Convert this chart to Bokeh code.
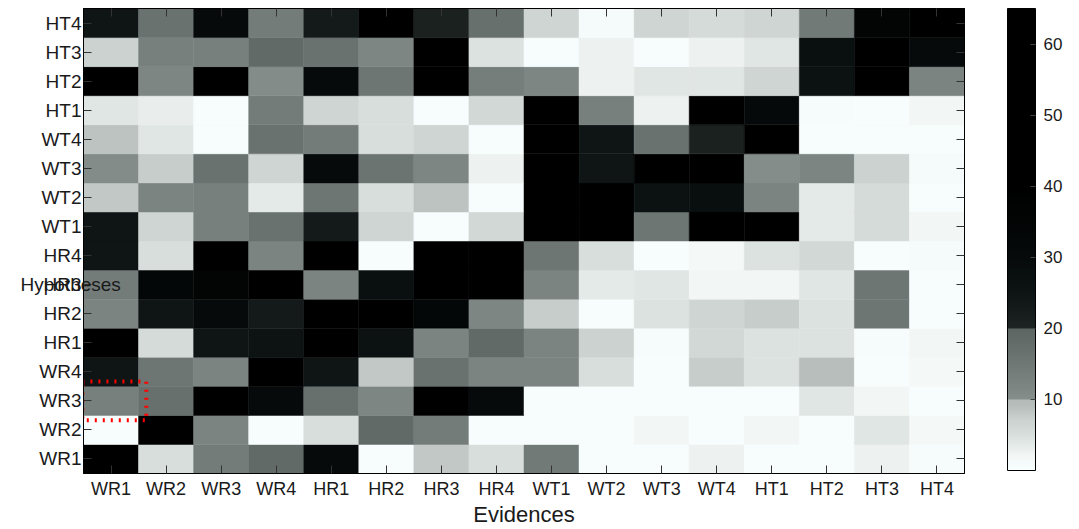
import numpy as np
from bokeh.plotting import figure
from bokeh.models import (LinearColorMapper, ColorBar, FixedTicker, CategoricalAxis,
                          ColumnDataSource)
from bokeh.transform import transform, dodge
from bokeh.embed import file_html
from bokeh.resources import INLINE

# ---------------- data ----------------
evidences = ["WR1", "WR2", "WR3", "WR4", "HR1", "HR2", "HR3", "HR4",
             "WT1", "WT2", "WT3", "WT4", "HT1", "HT2", "HT3", "HT4"]
hypotheses = ["WR1", "WR2", "WR3", "WR4", "HR1", "HR2", "HR3", "HR4",
              "WT1", "WT2", "WT3", "WT4", "HT1", "HT2", "HT3", "HT4"]

# one row per hypothesis, values along evidences
row_ht4 = [25, 16.5, 30, 14, 23, 55, 21, 17, 6.5, 1, 6.5, 5.5, 6.5, 14.5, 35, 52]
row_ht3 = [7, 13, 13, 18.5, 16.5, 11.5, 58, 4.5, 0.5, 2.5, 0.5, 2.5, 4, 27, 60, 30]
row_ht2 = [60, 11.5, 57, 10.5, 30, 15.5, 40, 13.5, 11.5, 2.5, 4, 4, 6.5, 26, 55, 12]
row_ht1 = [4, 3, 0.5, 14, 6.5, 5, 0.5, 6, 42, 13, 2.5, 50, 31, 0.8, 0.6, 2]
row_wt4 = [8.5, 4, 0.5, 16.5, 14, 5, 6.5, 0.5, 40, 25, 16.5, 21, 52, 0.6, 0.6, 0.6]
row_wt3 = [10.5, 7.5, 16.5, 6.5, 30, 16, 11.5, 2.5, 55, 25, 45, 50, 10.3, 11.8, 7, 1]
row_wt2 = [8, 12, 13, 3.5, 15.5, 5, 8.5, 0.5, 40, 60, 26, 28, 12, 3.5, 5.5, 0.6]
row_wt1 = [25, 6.5, 13, 16.5, 23, 6.5, 0.5, 6, 58, 40, 15.5, 45, 62, 3.5, 5.5, 2]
row_hr4 = [25, 5, 56, 12, 58, 0.5, 45, 45, 15.5, 5, 0.5, 1.5, 4.5, 6, 0.5, 1]
row_hr3 = [14, 33, 35, 55, 12, 27, 60, 57, 12, 3.5, 4, 2.2, 2.2, 4, 15.5, 0.6]
row_hr2 = [12, 25, 30, 23, 58, 60, 33, 11.5, 7.5, 0.5, 4.5, 6.5, 7.5, 4.5, 15.5, 0.6]
row_hr1 = [60, 5.5, 25, 25.5, 62, 26, 12, 18.5, 12, 7, 0.8, 6, 4.5, 4.5, 0.8, 2]
row_wr4 = [25, 15.5, 12, 60, 25, 8, 16.5, 12, 12, 5, 0.5, 7.5, 4.5, 9, 0.5, 1.5]
row_wr3 = [13, 17, 62, 30, 17, 11.5, 42, 30, 0.5, 0.5, 0.5, 0.5, 0.5, 4, 2.2, 0.6]
row_wr2 = [0.5, 63, 12, 0.5, 5, 18.5, 14, 0.5, 0.5, 0.6, 2.2, 0.6, 2.2, 0.6, 4, 1.5]
row_wr1 = [48, 5, 14, 18.5, 30, 0.5, 8, 5, 14.5, 0.6, 0.6, 2.5, 0.6, 0.6, 2.5, 0.8]

rows = {
    "WR1": row_wr1, "WR2": row_wr2, "WR3": row_wr3, "WR4": row_wr4,
    "HR1": row_hr1, "HR2": row_hr2, "HR3": row_hr3, "HR4": row_hr4,
    "WT1": row_wt1, "WT2": row_wt2, "WT3": row_wt3, "WT4": row_wt4,
    "HT1": row_ht1, "HT2": row_ht2, "HT3": row_ht3, "HT4": row_ht4,
}

value_low = 0
value_high = 65
colorbar_ticks = [10, 20, 30, 40, 50, 60]

highlight_x = ["WR1"]
highlight_y = ["WR3"]

x_label = "Evidences"
y_label = "Hypotheses"

# ---------------- palette ----------------
anchor_vals = [0, 2, 3.5, 5, 7, 9, 9.9, 10, 12, 14, 16, 18, 19.9, 20, 23, 26, 30, 40, 65]
anchor_cols = ["#f8ffff", "#f2f6f4", "#e4eae8", "#d8dedc", "#ccd2d0", "#b8bebc", "#b4bab8",
               "#868e8c", "#7c8482", "#747c7a", "#6c7472", "#646c6a", "#5e6664",
               "#1e2422", "#141a1a", "#0c1212", "#060a0a", "#000000", "#000000"]


def _rgb(h):
    return [int(h[i:i + 2], 16) for i in (1, 3, 5)]


_ac = np.array([_rgb(c) for c in anchor_cols], dtype=float)
_grid = np.linspace(value_low, value_high, 261)
palette = []
for gv in _grid:
    r, g, b = (np.interp(gv, anchor_vals, _ac[:, k]) for k in range(3))
    palette.append("#%02x%02x%02x" % (int(round(r)), int(round(g)), int(round(b))))

mapper = LinearColorMapper(palette=palette, low=value_low, high=value_high)

xs, ys, vs = [], [], []
for h in hypotheses:
    for e, v in zip(evidences, rows[h]):
        xs.append(e)
        ys.append(h)
        vs.append(v)
source = ColumnDataSource(dict(ev=xs, hy=ys, val=vs))
hl_source = ColumnDataSource(dict(ev=highlight_x, hy=highlight_y))

# ---------------- figure ----------------
FONT = "Liberation Sans"
TXT = "#1a1a1a"
p = figure(x_range=evidences, y_range=hypotheses, width=1079, height=529,
           output_backend="svg", toolbar_location=None,
           min_border_left=83, min_border_right=115, min_border_top=8, min_border_bottom=53,
           x_axis_label=x_label)

bottom_axis = p.below[0]
left_axis = p.left[0]

p.rect(x="ev", y="hy", width=1, height=1, source=source,
       fill_color=transform("val", mapper), line_color=transform("val", mapper), line_width=0.5)

p.rect(x=dodge("ev", 0.06, range=p.x_range), y="hy", source=hl_source,
       width=1.16, height=1.33, fill_color=None,
       line_color="#ff0000", line_width=4, line_dash="2 6")

p.grid.visible = False
p.outline_line_color = "black"
p.outline_line_width = 1
p.background_fill_color = "white"
p.border_fill_color = "white"

top_axis = CategoricalAxis()
right_axis = CategoricalAxis()
p.add_layout(top_axis, "above")
p.add_layout(right_axis, "right")

for ax in [bottom_axis, left_axis, top_axis, right_axis]:
    ax.major_tick_in = 8
    ax.major_tick_out = 0
    ax.minor_tick_line_color = None
    ax.axis_line_color = "black"
    ax.major_tick_line_color = "#333333"
    ax.major_label_text_font = FONT
    ax.major_label_text_font_size = "18px"
    ax.major_label_text_color = TXT

left_axis.major_label_text_font_size = "19px"

for ax in [top_axis, right_axis]:
    ax.major_label_text_color = None
    ax.major_label_text_font_size = "1px"
    ax.major_label_standoff = 0

bottom_axis.major_label_standoff = 5
left_axis.major_label_standoff = 2
bottom_axis.axis_label_text_font = FONT
bottom_axis.axis_label_text_font_size = "22px"
bottom_axis.axis_label_text_font_style = "normal"
bottom_axis.axis_label_text_color = TXT
bottom_axis.axis_label_standoff = 0

# y label: drawn horizontally across the tick labels, as in the original
# (carried as the title of an empty, invisible colour key so it is not clipped to the frame)
y_label_holder = ColorBar(color_mapper=mapper, ticker=FixedTicker(ticks=[]),
                          orientation="horizontal",
                          location=(-63, 178), width=1, height=1, margin=0, padding=0,
                          scale_alpha=0, bar_line_color=None,
                          major_tick_line_color=None, minor_tick_line_color=None,
                          major_label_text_color=None,
                          title=y_label, title_standoff=0,
                          title_text_font=FONT, title_text_font_size="19px",
                          title_text_font_style="normal", title_text_color=TXT,
                          background_fill_color=None, border_line_color=None)
p.add_layout(y_label_holder)

color_bar = ColorBar(color_mapper=mapper, ticker=FixedTicker(ticks=colorbar_ticks),
                     location=(924, 3), width=28, height=462, margin=0, padding=0,
                     bar_line_color="black", bar_line_width=1,
                     major_tick_in=5, major_tick_out=0, major_tick_line_color="#444444",
                     minor_tick_line_color=None,
                     major_label_text_font=FONT, major_label_text_font_size="17px",
                     major_label_text_color=TXT, label_standoff=8,
                     background_fill_color=None, border_line_color=None)
p.add_layout(color_bar)

open("out.html", "w").write(file_html(p, INLINE))
